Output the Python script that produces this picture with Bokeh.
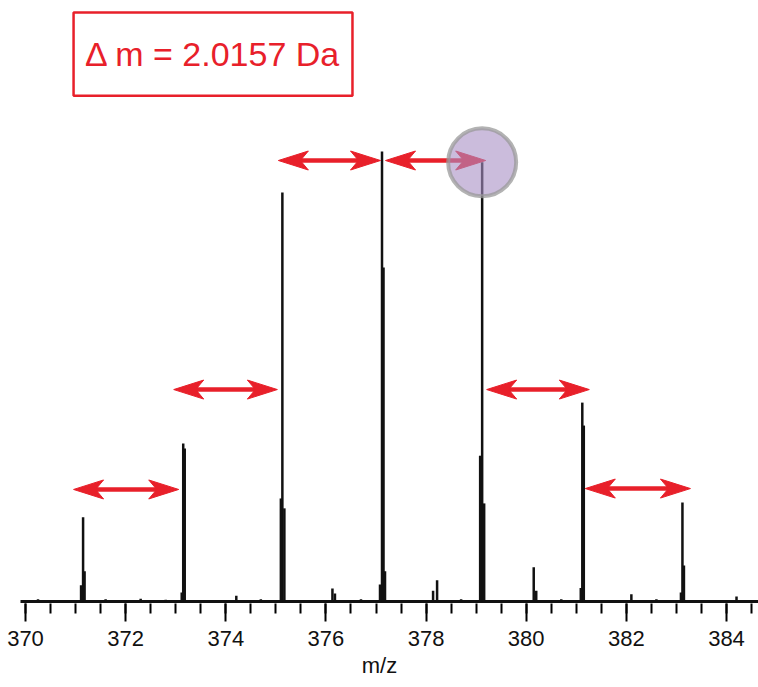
from bokeh.plotting import figure
from bokeh.models import FixedTicker
from bokeh.core.properties import value
from bokeh.embed import file_html
from bokeh.resources import INLINE

# ---- data (intensity in % of the base peak) ----
peak_mz = [371.15, 371.18, 371.11,
           373.15, 373.18, 373.12,
           375.13, 375.10, 375.17,
           377.12, 377.15, 377.08, 377.18,
           379.12, 379.08, 379.16,
           381.12, 381.15, 381.09,
           383.12, 383.15, 383.09]
peak_int = [18.7, 6.7, 3.6,
            35.1, 34.0, 2.0,
            90.9, 22.9, 20.7,
            100.0, 74.2, 3.8, 6.7,
            97.6, 32.4, 21.8,
            44.2, 39.1, 3.0,
            22.0, 8.0, 2.0]
minor_mz = [370.25, 371.6, 372.3, 372.8, 374.21, 374.7, 376.13, 376.18,
            376.7, 378.14, 378.22, 378.7, 380.15, 380.2, 380.7, 382.1, 382.6, 384.2]
minor_int = [0.5, 0.5, 0.6, 0.4, 1.3, 0.5, 2.9, 1.8,
             0.5, 2.4, 4.7, 0.5, 7.6, 2.4, 0.5, 1.6, 0.5, 1.1]

major_ticks = [370, 372, 374, 376, 378, 380, 382, 384]
minor_ticks = [370 + 0.5 * i for i in range(30)]

# spacing arrows: start m/z, end m/z, height
arrow_x0 = [370.96, 372.96, 375.05, 377.19, 379.21, 381.18]
arrow_x1 = [373.06, 375.03, 377.09, 379.19, 381.26, 383.28]
arrow_y = [24.9, 47.1, 98.0, 98.0, 47.1, 25.1]

label_text = "\u0394 m = 2.0157 Da"
highlight_mz = [379.12]
highlight_int = [97.6]

RED = "#e8202a"
FONT = "Liberation Sans"

W, H = 758, 687
FRAME_H = 603
X0, X1 = 369.5007, 384.639
Y0, Y1 = -0.444, 133.56

p = figure(width=W, height=H, output_backend="svg", toolbar_location=None,
           x_range=(X0, X1), y_range=(Y0, Y1), y_axis_location=None,
           min_border_left=0, min_border_right=0, min_border_top=0,
           min_border_bottom=H - FRAME_H)
p.grid.visible = False
p.outline_line_color = None
p.background_fill_color = "white"
p.border_fill_color = "white"

ax = p.xaxis[0]
ax.ticker = FixedTicker(ticks=major_ticks, minor_ticks=minor_ticks)
ax.axis_line_color = None
ax.major_tick_line_width = 2
ax.minor_tick_line_width = 2
ax.major_tick_in = 0
ax.major_tick_out = 18
ax.minor_tick_in = 0
ax.minor_tick_out = 10
ax.major_label_text_font = FONT
ax.major_label_text_font_size = "22px"
ax.major_label_text_color = "#111111"
ax.major_label_standoff = 9
ax.axis_label = "m/z"
ax.axis_label_text_font = FONT
ax.axis_label_text_font_style = "normal"
ax.axis_label_text_font_size = "22px"
ax.axis_label_text_color = "#111111"
ax.axis_label_standoff = 4

# baseline
p.line(x=[369.9, X1], y=[0, 0], line_color="#111111", line_width=3)

# spectrum sticks
p.segment(x0=minor_mz, y0=[0] * len(minor_mz), x1=minor_mz, y1=minor_int,
          line_color="#111111", line_width=2.5)
p.segment(x0=peak_mz, y0=[0] * len(peak_mz), x1=peak_mz, y1=peak_int,
          line_color="#111111", line_width=2.5)

# arrows (heads as patches, sized in pixels)
ppx = W / (X1 - X0)
ppy = FRAME_H / (Y1 - Y0)
L, HW, N = 30.0, 9.5, 22.0
xs, ys, sx0, sx1 = [], [], [], []
for a, b, y in zip(arrow_x0, arrow_x1, arrow_y):
    dl, dn, dw = L / ppx, N / ppx, HW / ppy
    xs.append([a, a + dl, a + dn, a + dl])
    ys.append([y, y + dw, y, y - dw])
    xs.append([b, b - dl, b - dn, b - dl])
    ys.append([y, y + dw, y, y - dw])
    sx0.append(a + dn - 1 / ppx)
    sx1.append(b - dn + 1 / ppx)
p.segment(x0=sx0, y0=arrow_y, x1=sx1, y1=arrow_y, line_color=RED, line_width=4.5)
p.patches(xs=xs, ys=ys, fill_color=RED, line_color=RED, line_width=1)

# highlight circle
p.scatter(x=highlight_mz, y=highlight_int, size=68, marker="circle",
          fill_color="#a88fc5", fill_alpha=0.6,
          line_color="#9a9a9a", line_alpha=0.75, line_width=4)

# label box
p.quad(left=[370.96], right=[376.53], top=[130.9], bottom=[112.4],
       fill_color="white", line_color=RED, line_width=2.5)
p.text(x=[373.745], y=[121.6], text=[label_text], text_font=value(FONT),
       text_font_size="34px", text_color=RED, text_align="center",
       text_baseline="middle")

open("out.html", "w").write(file_html(p, INLINE))
